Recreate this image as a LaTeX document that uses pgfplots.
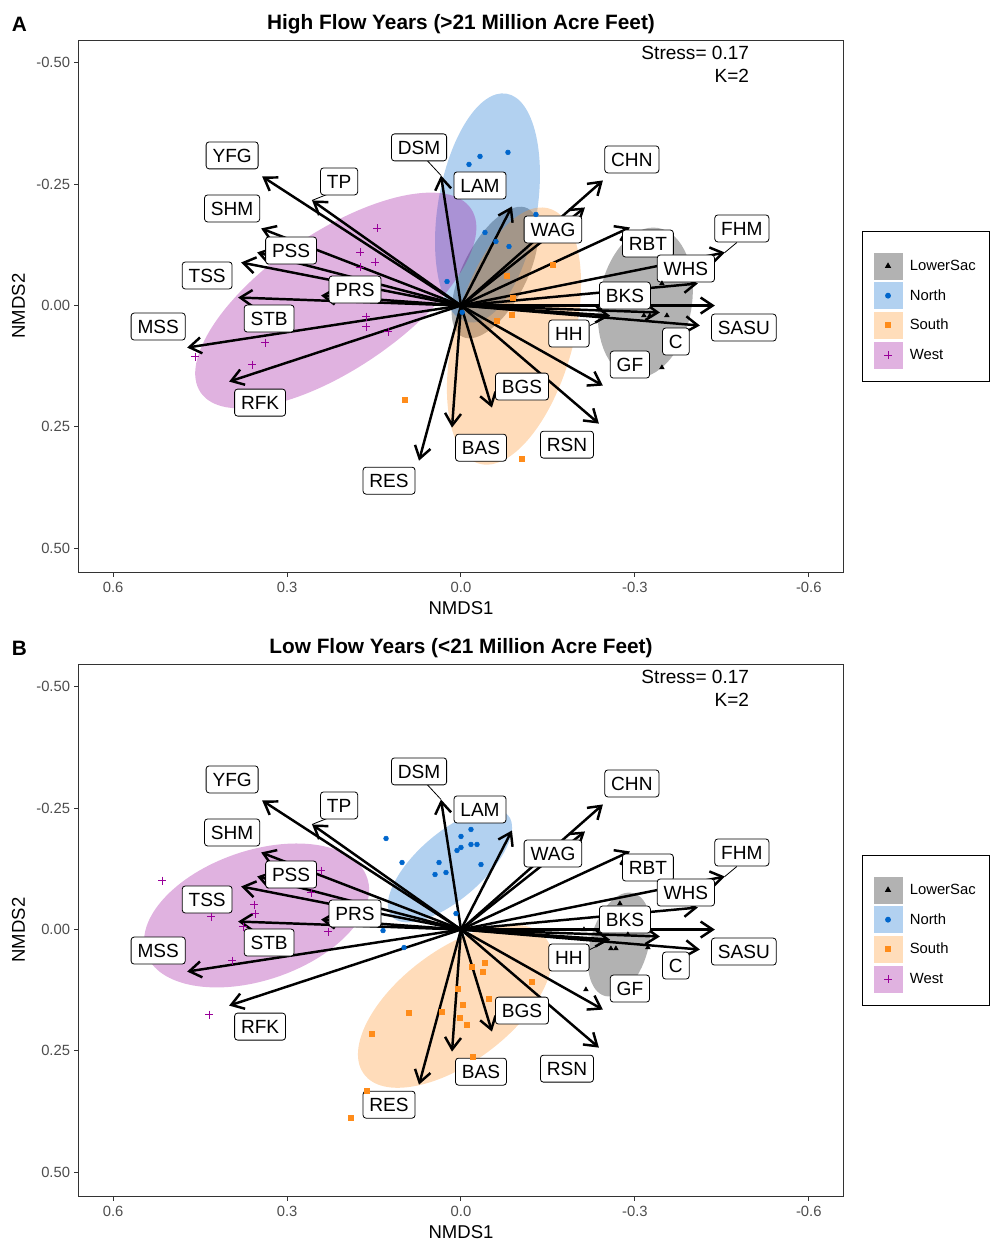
\documentclass[border=0pt]{standalone}
\usepackage{fontspec}
\setmainfont{Liberation Sans}
\usepackage{pgfplots}
\pgfplotsset{compat=1.18}
\usepackage{pgfplotstable}
\usetikzlibrary{arrows.meta}

\definecolor{cLS}{RGB}{0,0,0}
\definecolor{cN}{RGB}{0,102,204}
\definecolor{cS}{RGB}{255,140,26}
\definecolor{cW}{RGB}{153,0,153}
\definecolor{framec}{RGB}{51,51,51}
\definecolor{ticklab}{RGB}{77,77,77}

% environmental vectors (same in both panels)
\pgfplotstableread{
x0 y0 u v
0 0 0.3431 -0.2660
0 0 0.2569 -0.2165
0 0 0.3448 -0.1588
0 0 0.3517 -0.1093
0 0 0.3793 -0.0887
0 0 0.2414 -0.0206
0 0 0.3845 -0.0165
0 0 0.4724 0.0866
0 0 0.4000 0.1567
0 0 0.0724 0.3196
0 0 0.0155 0.2515
0 0 -0.0534 0.2103
0 0 -0.2379 0.2433
0 0 -0.2448 0.1649
0 0 0.0345 -0.2680
0 0 -0.0879 -0.2041
0 0 -0.2448 -0.2577
0 0 -0.2138 -0.2021
0 0 -0.2914 -0.1608
0 0 -0.4552 -0.1093
0 0 -0.4086 -0.0454
0 0 -0.4379 0.0000
0 0 -0.3431 0.0144
0 0 -0.4121 0.0412
0 0 -0.2569 0.0206
}\vectors

% Panel A points
\pgfplotstableread{
x y
-0.3466 -0.0454
-0.3155 0.0206
-0.3259 0.0206
-0.3552 0.0206
-0.3466 0.1278
}\ALS
\pgfplotstableread{
x y
-0.0810 -0.3155
-0.0328 -0.3072
-0.0138 -0.2907
-0.0414 -0.1505
-0.0603 -0.1320
-0.0828 -0.1216
0.0241 -0.0495
-0.1293 -0.1876
-0.0020 0.0140
}\AN
\pgfplotstableread{
x y
-0.0793 -0.0619
-0.1586 -0.0845
-0.0897 -0.0165
-0.0879 0.0186
-0.0621 0.0309
0.0966 0.1938
-0.1052 0.3155
}\AS
\pgfplotstableread{
x y
0.1448 -0.1588
0.1741 -0.1093
0.1483 -0.0887
0.1741 -0.0784
0.1638 0.0227
0.1638 0.0433
0.1259 0.0536
0.3379 0.0763
0.3603 0.1216
0.4586 0.1052
}\AW

% Panel B points
\pgfplotstableread{
x y
-0.2741 -0.0536
-0.2121 0.0000
-0.2879 0.0103
-0.2586 0.0392
-0.2672 0.0392
-0.3224 0.0371
-0.2155 0.1237
}\BLS
\pgfplotstableread{
x y
0.1293 -0.1876
0.1017 -0.1381
0.0379 -0.1381
0.0448 -0.1134
0.0259 -0.1175
0.0000 -0.1918
-0.0172 -0.2062
0.0069 -0.1629
0.0000 -0.1691
-0.0172 -0.1753
-0.0276 -0.1753
-0.0345 -0.1340
0.0086 -0.0330
0.1345 0.0021
0.0983 0.0371
}\BN
\pgfplotstableread{
x y
-0.0414 0.0680
-0.0379 0.0866
-0.0190 0.0763
-0.1224 0.1072
-0.0483 0.1423
-0.0034 0.1546
0.0328 0.1691
0.0017 0.1814
-0.0103 0.1959
0.0052 0.1216
0.0897 0.1711
0.1534 0.2144
-0.0207 0.2619
0.1621 0.3320
0.1897 0.3876
}\BS
\pgfplotstableread{
x y
0.5155 -0.1010
0.2414 -0.1216
0.2586 -0.0763
0.3569 -0.0515
0.3552 -0.0330
0.4310 -0.0268
0.3759 -0.0062
0.2293 0.0041
0.3948 0.0639
0.4345 0.1753
}\BW

\newcommand{\ellfill}[6]{\fill[#1, fill opacity=0.3, rotate around={#6:(axis cs:#2,#3)}] (axis cs:#2,#3) ellipse [x radius=#4pt, y radius=#5pt];}

\tikzset{labelbox/.style={draw=black, line width=0.6pt, rounded corners=2.25pt, fill=white,
  font=\fontsize{14.3}{16}\selectfont, inner xsep=4.8pt, inner ysep=5pt,
  text height=10.24pt, text depth=0pt, anchor=center}}

\newcommand{\vecplots}{%
  \addplot[forget plot, black, line width=0.6pt] coordinates {(0.0586,-0.2990) (0.0345,-0.2680)};
  \addplot[forget plot, black, line width=0.6pt] coordinates {(0.2310,-0.2289) (0.2569,-0.2165)};
  \addplot[forget plot, black, line width=0.6pt] coordinates {(-0.4759,-0.1299) (-0.4552,-0.1093)};
  \addplot[forget plot, black, line width=0.6pt] coordinates {(-0.2224,0.0412) (-0.2569,0.0206)};
  \addplot[forget plot, black, line width=1.85pt, mark=none,
    -{Straight Barb[length=9pt,width=12pt]},
    quiver={u=\thisrow{u}, v=\thisrow{v}}] table[x=x0,y=y0] {\vectors};
  \node[labelbox] at (axis cs:0.3948,-0.3093) {YFG};
  \node[labelbox] at (axis cs:0.2103,-0.2557) {TP};
  \node[labelbox] at (axis cs:0.3948,-0.2000) {SHM};
  \node[labelbox] at (axis cs:0.2931,-0.1134) {PSS};
  \node[labelbox] at (axis cs:0.4379,-0.0619) {TSS};
  \node[labelbox] at (axis cs:0.1828,-0.0330) {PRS};
  \node[labelbox] at (axis cs:0.3310,0.0268) {STB};
  \node[labelbox] at (axis cs:0.5224,0.0433) {MSS};
  \node[labelbox] at (axis cs:0.3466,0.2000) {RFK};
  \node[labelbox] at (axis cs:0.1241,0.3608) {RES};
  \node[labelbox] at (axis cs:-0.0345,0.2928) {BAS};
  \node[labelbox] at (axis cs:-0.1052,0.1670) {BGS};
  \node[labelbox] at (axis cs:-0.1828,0.2866) {RSN};
  \node[labelbox] at (axis cs:-0.2914,0.1216) {GF};
  \node[labelbox] at (axis cs:0.0724,-0.3258) {DSM};
  \node[labelbox] at (axis cs:-0.0328,-0.2474) {LAM};
  \node[labelbox] at (axis cs:-0.2948,-0.3010) {CHN};
  \node[labelbox] at (axis cs:-0.1586,-0.1567) {WAG};
  \node[labelbox] at (axis cs:-0.3224,-0.1278) {RBT};
  \node[labelbox] at (axis cs:-0.4845,-0.1588) {FHM};
  \node[labelbox] at (axis cs:-0.3879,-0.0763) {WHS};
  \node[labelbox] at (axis cs:-0.4879,0.0454) {SASU};
  \node[labelbox] at (axis cs:-0.2828,-0.0206) {BKS};
  \node[labelbox] at (axis cs:-0.3707,0.0742) {C};
  \node[labelbox] at (axis cs:-0.1862,0.0577) {HH};
  \node[anchor=east, inner sep=0pt, font=\fontsize{14.3}{16}\selectfont] at (axis cs:-0.4974,-0.5206) {Stress= 0.17};
  \node[anchor=east, inner sep=0pt, font=\fontsize{14.3}{16}\selectfont] at (axis cs:-0.4974,-0.4732) {K=2};
}

\newcommand{\legimages}{%
  \addlegendimage{legend image code/.code={\fill[black!30] (0pt,-9.75pt) rectangle (21pt,9.75pt); \path (0pt,15.75pt); \draw[black, mark=triangle*, mark size=2pt] plot coordinates {(10.5pt,0pt)};}}
  \addlegendentry{LowerSac}
  \addlegendimage{legend image code/.code={\fill[cN!30] (0pt,-9.75pt) rectangle (21pt,9.75pt); \draw[cN, mark=*, mark size=1.8pt] plot coordinates {(10.5pt,0pt)};}}
  \addlegendentry{North}
  \addlegendimage{legend image code/.code={\fill[cS!30] (0pt,-9.75pt) rectangle (21pt,9.75pt); \draw[cS, mark=square*, mark size=1.8pt] plot coordinates {(10.5pt,0pt)};}}
  \addlegendentry{South}
  \addlegendimage{legend image code/.code={\fill[cW!30] (0pt,-9.75pt) rectangle (21pt,9.75pt); \draw[cW, mark=+, mark size=3pt, line width=0.6pt] plot coordinates {(10.5pt,0pt)};}}
  \addlegendentry{West}
}

\pgfplotsset{
  nmds/.style={
    scale only axis, width=573pt, height=399pt,
    x dir=reverse, y dir=reverse,
    xmin=-0.659, xmax=0.659, ymin=-0.547, ymax=0.549,
    xtick={-0.6,-0.3,0,0.3,0.6}, xticklabels={-0.6,-0.3,0.0,0.3,0.6},
    ytick={-0.5,-0.25,0,0.25,0.5}, yticklabels={-0.50,-0.25,0.00,0.25,0.50},
    axis line style={framec, line width=0.75pt},
    tick style={framec, line width=0.75pt},
    tick align=outside, major tick length=3.5pt,
    xtick pos=lower, ytick pos=lower,
    xticklabel style={font=\fontsize{11.1}{13}\selectfont, text=ticklab, anchor=base, inner sep=0pt, yshift=-12.2pt},
    yticklabel style={font=\fontsize{11.1}{13}\selectfont, text=ticklab, anchor=east, inner sep=0pt, xshift=-3pt},
    xlabel={NMDS1}, ylabel={NMDS2},
    every axis x label/.style={at={(axis description cs:0.5,-0.0801)}, anchor=base, font=\fontsize{13.9}{16}\selectfont},
    every axis y label/.style={at={(axis description cs:-0.0709,0.5)}, rotate=90, anchor=base, font=\fontsize{13.9}{16}\selectfont},
    every axis title/.style={at={(axis description cs:0.5,1.0201)}, anchor=base, font=\bfseries\fontsize{15.6}{18}\selectfont},
    legend style={at={(axis description cs:1.0249,0.641)}, anchor=north west, draw=black, line width=0.75pt,
      font=\fontsize{11.1}{13}\selectfont, inner xsep=8.25pt, inner ysep=9.75pt, row sep=2pt, column sep=3.5pt},
    legend cell align=left,
  }
}

\begin{document}
\begin{tikzpicture}[x=1pt,y=1pt]
\path[use as bounding box] (0,0) rectangle (744,-932.25);
\node[anchor=base, font=\bfseries\fontsize{15.6}{18}\selectfont] at (14.63,-23.78) {A};
\node[anchor=base, font=\bfseries\fontsize{15.6}{18}\selectfont] at (14.63,-491.78) {B};

\begin{axis}[nmds, at={(59.25pt,-429pt)}, anchor=south west, title={High Flow Years (>21 Million Acre Feet)}]
  \legimages
  \ellfill{cLS}{-0.318}{-0.006}{56.8}{34.8}{80.2}
  \ellfill{cLS}{-0.0586}{-0.068}{54}{24}{63}
  \ellfill{cN}{-0.0457}{-0.201}{86.9}{37.2}{80.6}
  \ellfill{cS}{-0.0914}{0.0629}{99.2}{44.6}{74.8}
  \ellfill{cW}{0.216}{-0.0103}{122.6}{51.3}{34.2}
  \addplot[forget plot, only marks, mark=triangle*, mark size=2pt, black] table {\ALS};
  \addplot[forget plot, only marks, mark=*, mark size=1.8pt, cN] table {\AN};
  \addplot[forget plot, only marks, mark=square*, mark size=1.8pt, cS] table {\AS};
  \addplot[forget plot, only marks, mark=+, mark size=3pt, line width=0.6pt, cW] table {\AW};
  \vecplots
\end{axis}

\begin{axis}[nmds, at={(59.25pt,-897pt)}, anchor=south west, title={Low Flow Years (<21 Million Acre Feet)}]
  \legimages
  \ellfill{cLS}{-0.273}{0.031}{40}{21.8}{74.4}
  \ellfill{cN}{0.019}{-0.131}{57.8}{24.8}{41}
  \ellfill{cS}{0.0103}{0.158}{85.2}{42.2}{36.75}
  \ellfill{cW}{0.3526}{-0.029}{87.6}{48.6}{18.8}
  \addplot[forget plot, only marks, mark=triangle*, mark size=2pt, black] table {\BLS};
  \addplot[forget plot, only marks, mark=*, mark size=1.8pt, cN] table {\BN};
  \addplot[forget plot, only marks, mark=square*, mark size=1.8pt, cS] table {\BS};
  \addplot[forget plot, only marks, mark=+, mark size=3pt, line width=0.6pt, cW] table {\BW};
  \vecplots
\end{axis}
\end{tikzpicture}
\end{document}
